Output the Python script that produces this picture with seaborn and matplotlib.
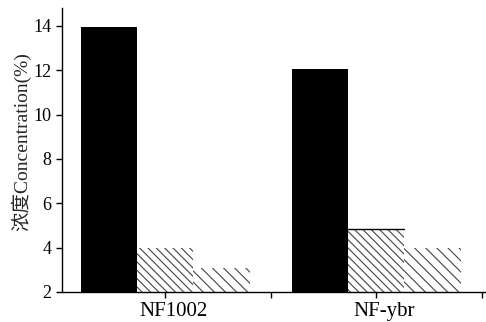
import pandas as pd
import matplotlib
matplotlib.use('Agg')
import matplotlib.pyplot as plt
import matplotlib.transforms as mtransforms
import seaborn as sns

# Data
samples = ['NF1002', 'NF-ybr']
series = ['A', 'B', 'C']
val_a = [13.95, 12.05]
val_b = [4.0, 4.82]
val_c = [3.1, 4.0]

rows = []
for s, vals in zip(series, [val_a, val_b, val_c]):
    for smp, v in zip(samples, vals):
        rows.append({'sample': smp, 'series': s, 'value': v})
df = pd.DataFrame(rows)

sns.set_style('ticks')
plt.rcParams['font.family'] = ['Liberation Serif', 'Noto Sans CJK SC']
plt.rcParams['hatch.linewidth'] = 0.8

fig = plt.figure(figsize=(4.86, 3.22), dpi=100)
ax = fig.add_axes([62 / 486, 30 / 322, 424 / 486, 284 / 322])

sns.barplot(data=df, x='sample', y='value', hue='series', order=samples,
            hue_order=series, palette=['black', 'white', 'white'],
            ax=ax, legend=False, errorbar=None, saturation=1)

hatches = [None, '\\\\\\\\', '\\\\\\']
for cont, h in zip(ax.containers, hatches):
    for p in cont.patches:
        p.set_linewidth(0)
        if h:
            p.set_hatch(h)
            p.set_edgecolor('#444444')

# top edge + small error mark on NF-ybr middle bar
p = ax.containers[1].patches[1]
ax.plot([p.get_x(), p.get_x() + p.get_width()], [p.get_height()] * 2,
        color='black', lw=1)
ax.errorbar(p.get_x() + p.get_width() / 2, p.get_height(), yerr=0.04,
            color='black', lw=4, capsize=0)

ax.set_ylim(2, 14.8)
ax.set_xlim(-0.49, 1.52)
ax.set_yticks([2, 4, 6, 8, 10, 12, 14])
ax.set_xticks([0, 0.5, 1, 1.5])
ax.set_xticklabels(['NF1002', '', 'NF-ybr', ''])
ax.tick_params(axis='y', labelsize=13, length=4, width=1, colors='black')
ax.tick_params(axis='x', labelsize=15, length=4, width=1, colors='black', pad=3)
shift = mtransforms.ScaledTranslation(8 / 100, 0, fig.dpi_scale_trans)
for lab in ax.get_xticklabels():
    lab.set_transform(lab.get_transform() + shift)
ax.set_xlabel('')
ax.set_ylabel('浓度Concentration(%)', fontsize=14)
ax.yaxis.set_label_coords(-0.072, 0.53)
for side in ['top', 'right']:
    ax.spines[side].set_visible(False)
for side in ['left', 'bottom']:
    ax.spines[side].set_linewidth(1)
    ax.spines[side].set_color('black')

plt.savefig('out.png', dpi=100)
